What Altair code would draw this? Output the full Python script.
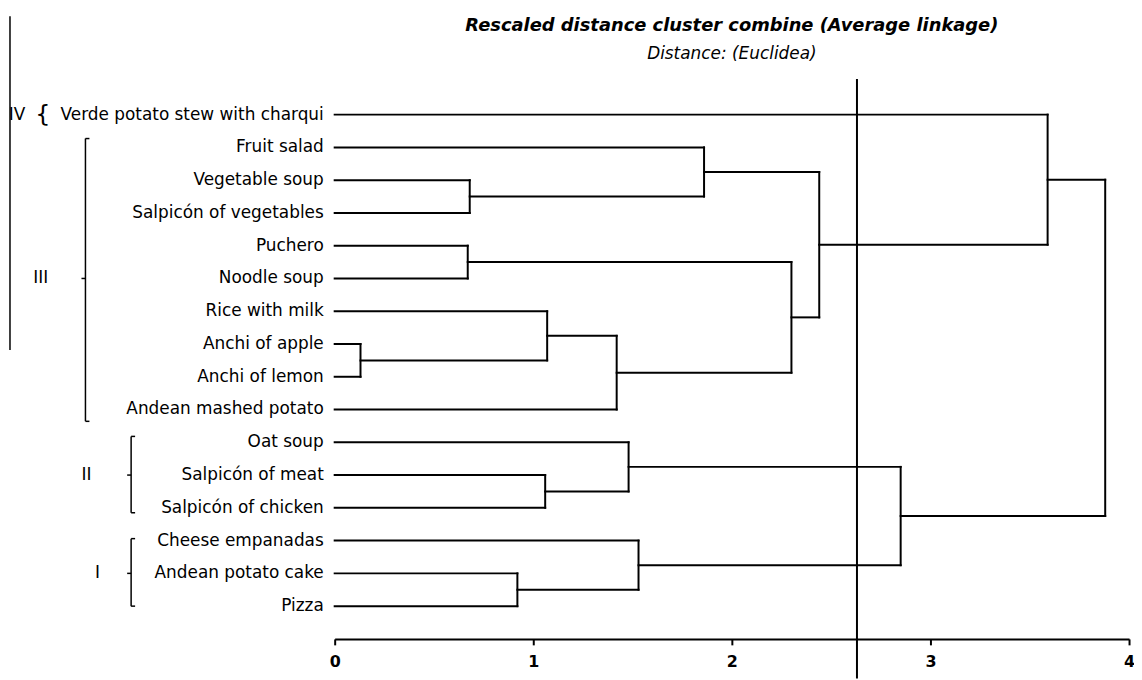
import altair as alt
import pandas as pd

# ---------------- data ----------------
leaves = [
    "Verde potato stew with charqui",
    "Fruit salad",
    "Vegetable soup",
    "Salpicón of vegetables",
    "Puchero",
    "Noodle soup",
    "Rice with milk",
    "Anchi of apple",
    "Anchi of lemon",
    "Andean mashed potato",
    "Oat soup",
    "Salpicón of meat",
    "Salpicón of chicken",
    "Cheese empanadas",
    "Andean potato cake",
    "Pizza",
]
# merges: node ids 0..15 are leaves, merge k creates node 16+k
merge_left = [7, 4, 2, 14, 11, 6, 21, 10, 13, 1, 17, 25, 23, 0, 29]
merge_right = [8, 5, 3, 15, 12, 16, 9, 20, 19, 18, 22, 26, 24, 27, 28]
merge_dist = [0.13, 0.67, 0.68, 0.92, 1.06, 1.07, 1.42, 1.48, 1.53, 1.86, 2.30, 2.44, 2.85, 3.59, 3.88]

cut_distance = [2.63]
x_ticks = [0, 1, 2, 3, 4]

group_names = ["IV", "III", "II", "I"]
group_first = [0, 1, 10, 13]
group_last = [0, 9, 12, 15]

title_text = "Rescaled distance cluster combine (Average linkage)"
subtitle_text = "Distance: (Euclidea)"

# ---------------- layout (pixels / styles) ----------------
PX0 = 337          # pixel of distance 0
PX_PER_UNIT = 200  # pixels per distance unit
TOP = 78           # pixel of plot top
W, H = 800, 563
Y_TOP = -1.0606
Y_BOTTOM = 16
FONT = "DejaVu Sans"

def px_to_x(px):
    return (px - PX0) / PX_PER_UNIT

group_label_px = [17, 41, 87, 98]
bracket_px = [None, 86, 132, 132]
bracket_pad_top = [0, 0.27, 0.18, 0.06]
bracket_pad_bot = [0, 0.36, 0.15, 0.0]
hook = 4 / PX_PER_UNIT

# ---------------- build dendrogram segments ----------------
node_x = {i: 0.0 for i in range(len(leaves))}
node_y = {i: float(i) for i in range(len(leaves))}
segs = []
for k, (l, r, d) in enumerate(zip(merge_left, merge_right, merge_dist)):
    n = len(leaves) + k
    segs.append(dict(x=node_x[l], x2=d, y=node_y[l], y2=node_y[l]))
    segs.append(dict(x=node_x[r], x2=d, y=node_y[r], y2=node_y[r]))
    segs.append(dict(x=d, x2=d, y=node_y[l], y2=node_y[r]))
    node_x[n] = d
    node_y[n] = (node_y[l] + node_y[r]) / 2
seg_df = pd.DataFrame(segs)

leaf_df = pd.DataFrame({"label": leaves, "y": list(range(len(leaves))), "x": 0.0})

# brackets
br = []
for i, name in enumerate(group_names):
    if bracket_px[i] is None:
        continue
    bx = px_to_x(bracket_px[i])
    top = group_first[i] - bracket_pad_top[i]
    bot = group_last[i] + bracket_pad_bot[i]
    mid = (group_first[i] + group_last[i]) / 2
    br.append(dict(x=bx, x2=bx, y=top, y2=bot))
    br.append(dict(x=bx, x2=bx + hook, y=top, y2=top))
    br.append(dict(x=bx, x2=bx + hook, y=bot, y2=bot))
    br.append(dict(x=bx - hook, x2=bx, y=mid, y2=mid))
br_df = pd.DataFrame(br)

glab_df = pd.DataFrame({
    "name": group_names,
    "x": [px_to_x(p) for p in group_label_px],
    "y": [(f + l) / 2 for f, l in zip(group_first, group_last)],
})
brace_df = pd.DataFrame({"t": ["{"], "x": [px_to_x(43)], "y": [0]})
cut_df = pd.DataFrame({"x": cut_distance})
title_df = pd.DataFrame({"t": [title_text], "s": [subtitle_text]})

xscale = alt.Scale(domain=[0, 4], nice=False, zero=False)
yscale = alt.Scale(domain=[Y_TOP, Y_BOTTOM], reverse=True, nice=False, zero=False)

x_axis = alt.Axis(values=x_ticks, format="d", title=None, grid=False, labelFlush=False)
xq = lambda: alt.X("x:Q", scale=xscale, axis=x_axis)
yq = lambda: alt.Y("y:Q", scale=yscale, axis=None)

tree = alt.Chart(seg_df).mark_rule(color="black", strokeWidth=2, strokeCap="square").encode(
    x=xq(), x2="x2:Q", y=yq(), y2="y2:Q")

labels = alt.Chart(leaf_df).mark_text(
    align="right", baseline="middle", dx=-11, font=FONT, fontSize=17, color="black"
).encode(x=xq(), y=yq(), text="label:N")

brackets = alt.Chart(br_df).mark_rule(color="black", strokeWidth=1.5).encode(
    x=xq(), x2="x2:Q", y=yq(), y2="y2:Q")

glabels = alt.Chart(glab_df).mark_text(
    align="center", baseline="middle", font=FONT, fontSize=17, color="black"
).encode(x=xq(), y=yq(), text="name:N")

brace = alt.Chart(brace_df).mark_text(
    align="center", baseline="middle", font=FONT, fontSize=24, color="black"
).encode(x=xq(), y=yq(), text="t:N")

cut = alt.Chart(cut_df).mark_rule(color="black", strokeWidth=2).encode(
    x=xq(), y=alt.value(77 - TOP), y2=alt.value(H + 40))

stray = alt.Chart(cut_df).mark_rule(color="black", strokeWidth=1.5).encode(
    x=alt.value(10 - PX0), y=alt.value(14 - TOP), y2=alt.value(350 - TOP))

title = alt.Chart(title_df).mark_text(
    align="center", baseline="alphabetic", font=FONT, fontSize=18,
    fontWeight="bold", fontStyle="italic", color="black"
).encode(x=alt.value(W / 2), y=alt.value(29 - TOP), text="t:N")

subtitle = alt.Chart(title_df).mark_text(
    align="center", baseline="alphabetic", font=FONT, fontSize=17,
    fontStyle="italic", color="black"
).encode(x=alt.value(W / 2), y=alt.value(57 - TOP), text="s:N")

chart = alt.layer(tree, labels, brackets, glabels, brace, cut, stray, title, subtitle).properties(
    width=W, height=H,
    autosize=alt.AutoSizeParams(type="none"),
    padding={"left": PX0 - 8, "top": TOP - 8, "right": 5, "bottom": 39},
).configure(background="white").configure_view(
    strokeWidth=0, stroke="transparent"
).configure_axisX(
    domainColor="black", domainWidth=2, tickColor="black", tickWidth=2, tickSize=6,
    labelFont=FONT, labelFontSize=16, labelFontWeight="bold", labelColor="black",
    labelPadding=9, grid=False,
)

chart.save("out.html", embed_options={"renderer": "svg", "actions": False})
